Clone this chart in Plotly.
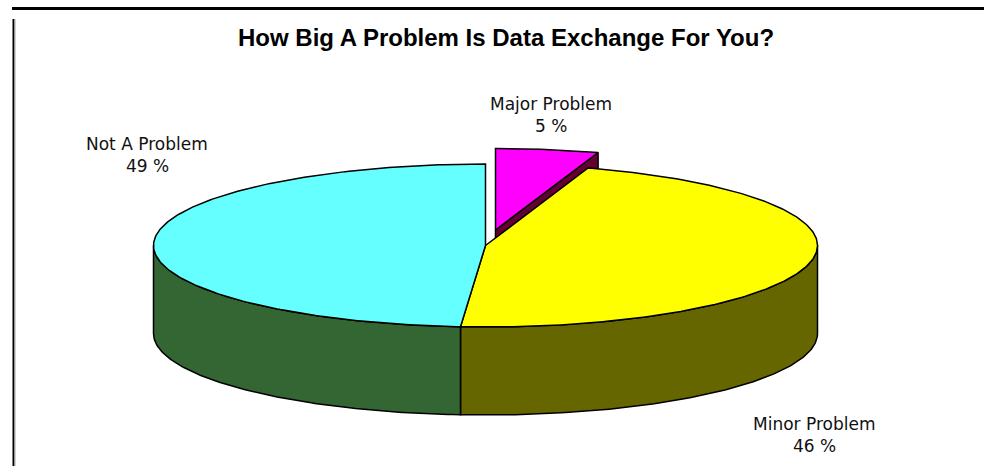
import numpy as np
import plotly.graph_objects as go

categories = ["Major Problem", "Minor Problem", "Not A Problem"]
values = [5, 46.2, 48.8]
top_colors = ["#ff00ff", "#ffff00", "#66ffff"]
wall_colors = ["#660033", "#666600", "#336633"]
title = "How Big A Problem Is Data Exchange For You?"

# pie geometry, in page pixels
CX, CY, RX, RY, DEPTH = 485.5, 245.5, 332.0, 81.5, 88.0
EXPLODE = [(10.0, -15.5), (0.0, 0.0), (0.0, 0.0)]
LABELS = [(551, 104, 126), (814, 424, 446), (147, 144, 166)]


def rim(a, off):
    return CX + off[0] + RX * np.sin(a), CY + off[1] - RY * np.cos(a)


fracs = np.array(values, dtype=float) / sum(values)
ends = np.cumsum(fracs) * 2 * np.pi
starts = np.concatenate([[0.0], ends[:-1]])

fig = go.Figure()


def poly(xs, ys, fill):
    fig.add_trace(go.Scatter(
        x=list(xs), y=list(ys), mode="lines", fill="toself", fillcolor=fill,
        line=dict(color="#000000", width=1.5), hoverinfo="skip", showlegend=False,
    ))


# walls: cut face of the exploded slice first, then the front rim
for i in range(len(values)):
    off = EXPLODE[i]
    if off != (0.0, 0.0):
        rx, ry = rim(ends[i], off)
        ax, ay = CX + off[0], CY + off[1]
        poly([ax, rx, rx, ax, ax], [ay, ry, ry + DEPTH, ay + DEPTH, ay], wall_colors[i])
for i in range(len(values)):
    lo, hi = max(starts[i], np.pi / 2), min(ends[i], 3 * np.pi / 2)
    if hi > lo:
        t = np.linspace(lo, hi, 120)
        x, y = rim(t, EXPLODE[i])
        poly(np.concatenate([x, x[::-1], x[:1]]),
             np.concatenate([y, y[::-1] + DEPTH, y[:1]]), wall_colors[i])

# top faces
for i in range(len(values)):
    t = np.linspace(starts[i], ends[i], 240)
    x, y = rim(t, EXPLODE[i])
    ax, ay = CX + EXPLODE[i][0], CY + EXPLODE[i][1]
    poly(np.concatenate([[ax], x, [ax]]), np.concatenate([[ay], y, [ay]]), top_colors[i])

annotations = [dict(x=506, y=37, text=f"<b>{title}</b>", showarrow=False,
                    font=dict(family="Liberation Sans", size=24, color="#000000"))]
for name, v, (lx, y1, y2) in zip(categories, values, LABELS):
    annotations.append(dict(x=lx, y=y1, text=name, showarrow=False,
                            font=dict(family="DejaVu Sans", size=17, color="#111111")))
    annotations.append(dict(x=lx, y=y2, text=f"{round(v)} %", showarrow=False,
                            font=dict(family="DejaVu Sans", size=17, color="#111111")))

fig.update_layout(
    width=984, height=470, margin=dict(l=0, r=0, t=0, b=0),
    paper_bgcolor="#ffffff", plot_bgcolor="#ffffff", showlegend=False,
    xaxis=dict(range=[0, 984], visible=False, fixedrange=True),
    yaxis=dict(range=[470, 0], visible=False, fixedrange=True),
    annotations=annotations,
    shapes=[
        dict(type="line", x0=12, x1=984, y0=8.5, y1=8.5, line=dict(color="#000000", width=3)),
        dict(type="line", x0=13.5, x1=13.5, y0=19, y1=466, line=dict(color="#000000", width=2)),
        dict(type="line", x0=15, x1=15, y0=19, y1=466, line=dict(color="#aaaaaa", width=1)),
    ],
)

fig.write_html("out.html", config={"displayModeBar": False},
               post_script="document.body.style.margin='0';document.body.style.overflow='hidden';")
